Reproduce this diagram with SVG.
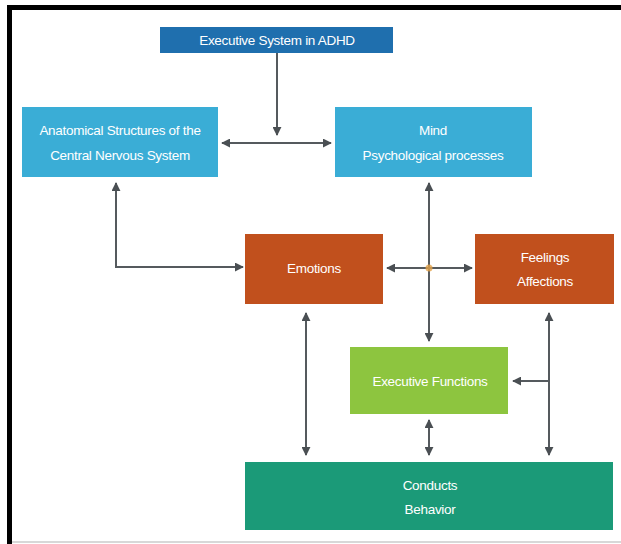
<svg xmlns="http://www.w3.org/2000/svg" width="621" height="544" viewBox="0 0 621 544">
<style>
.box-title{fill:#1f6fae}
.box-cyan{fill:#3aadd6}
.box-orange{fill:#c1501d}
.box-green{fill:#8dc53f}
.box-teal{fill:#1b9a78}
text{font-family:"Liberation Sans",Arial,sans-serif;font-size:13.5px;fill:#ffffff;text-anchor:middle;letter-spacing:-0.3px}
.conn{stroke:#555a5e;stroke-width:2;fill:none}
</style>
<defs>
<marker id="ah" viewBox="0 0 10 10" refX="9" refY="5" markerWidth="4.5" markerHeight="4.5" orient="auto-start-reverse" markerUnits="strokeWidth">
<path d="M0,0 L10,5 L0,10 z" fill="#4a4f53"/>
</marker>
</defs>
<rect x="0" y="0" width="621" height="544" fill="#ffffff"/>
<rect x="7" y="5" width="614" height="5" fill="#000000"/>
<rect x="7" y="5" width="5" height="539" fill="#000000"/>
<rect x="12" y="541" width="609" height="2" fill="#d8d8d8"/>

<g id="connectors">
<line class="conn" x1="277" y1="53" x2="277" y2="135" marker-end="url(#ah)"/>
<line class="conn" x1="222" y1="143" x2="331" y2="143" marker-start="url(#ah)" marker-end="url(#ah)"/>
<polyline class="conn" points="116,183 116,267 243,267" marker-start="url(#ah)" marker-end="url(#ah)"/>
<line class="conn" x1="429" y1="183" x2="429" y2="341" marker-start="url(#ah)" marker-end="url(#ah)"/>
<line class="conn" x1="387" y1="268" x2="472" y2="268" marker-start="url(#ah)" marker-end="url(#ah)"/>
<circle cx="429" cy="268" r="3.5" fill="#e3a24a" opacity="0.8"/>
<line class="conn" x1="306" y1="313" x2="306" y2="455" marker-start="url(#ah)" marker-end="url(#ah)"/>
<line class="conn" x1="549" y1="313" x2="549" y2="455" marker-start="url(#ah)" marker-end="url(#ah)"/>
<line class="conn" x1="549" y1="381" x2="513" y2="381" marker-end="url(#ah)"/>
<line class="conn" x1="429" y1="420" x2="429" y2="455" marker-start="url(#ah)" marker-end="url(#ah)"/>
</g>

<g id="node-title">
<rect class="box-title" x="160" y="27" width="233" height="26"/>
<text x="277" y="45">Executive System in ADHD</text>
</g>
<g id="node-anatomical">
<rect class="box-cyan" x="22" y="107" width="196" height="70"/>
<text x="120" y="135">Anatomical Structures of the</text>
<text x="120" y="160">Central Nervous System</text>
</g>
<g id="node-mind">
<rect class="box-cyan" x="335" y="107" width="197" height="70"/>
<text x="433" y="135">Mind</text>
<text x="433" y="160">Psychological processes</text>
</g>
<g id="node-emotions">
<rect class="box-orange" x="245" y="234" width="138" height="70"/>
<text x="314" y="273">Emotions</text>
</g>
<g id="node-feelings">
<rect class="box-orange" x="475" y="234" width="139" height="70"/>
<text x="545" y="262">Feelings</text>
<text x="545" y="286">Affections</text>
</g>
<g id="node-executive-functions">
<rect class="box-green" x="350" y="347" width="158" height="67"/>
<text x="430" y="386">Executive Functions</text>
</g>
<g id="node-conducts">
<rect class="box-teal" x="245" y="462" width="368" height="68"/>
<text x="430" y="490">Conducts</text>
<text x="430" y="514">Behavior</text>
</g>
</svg>
